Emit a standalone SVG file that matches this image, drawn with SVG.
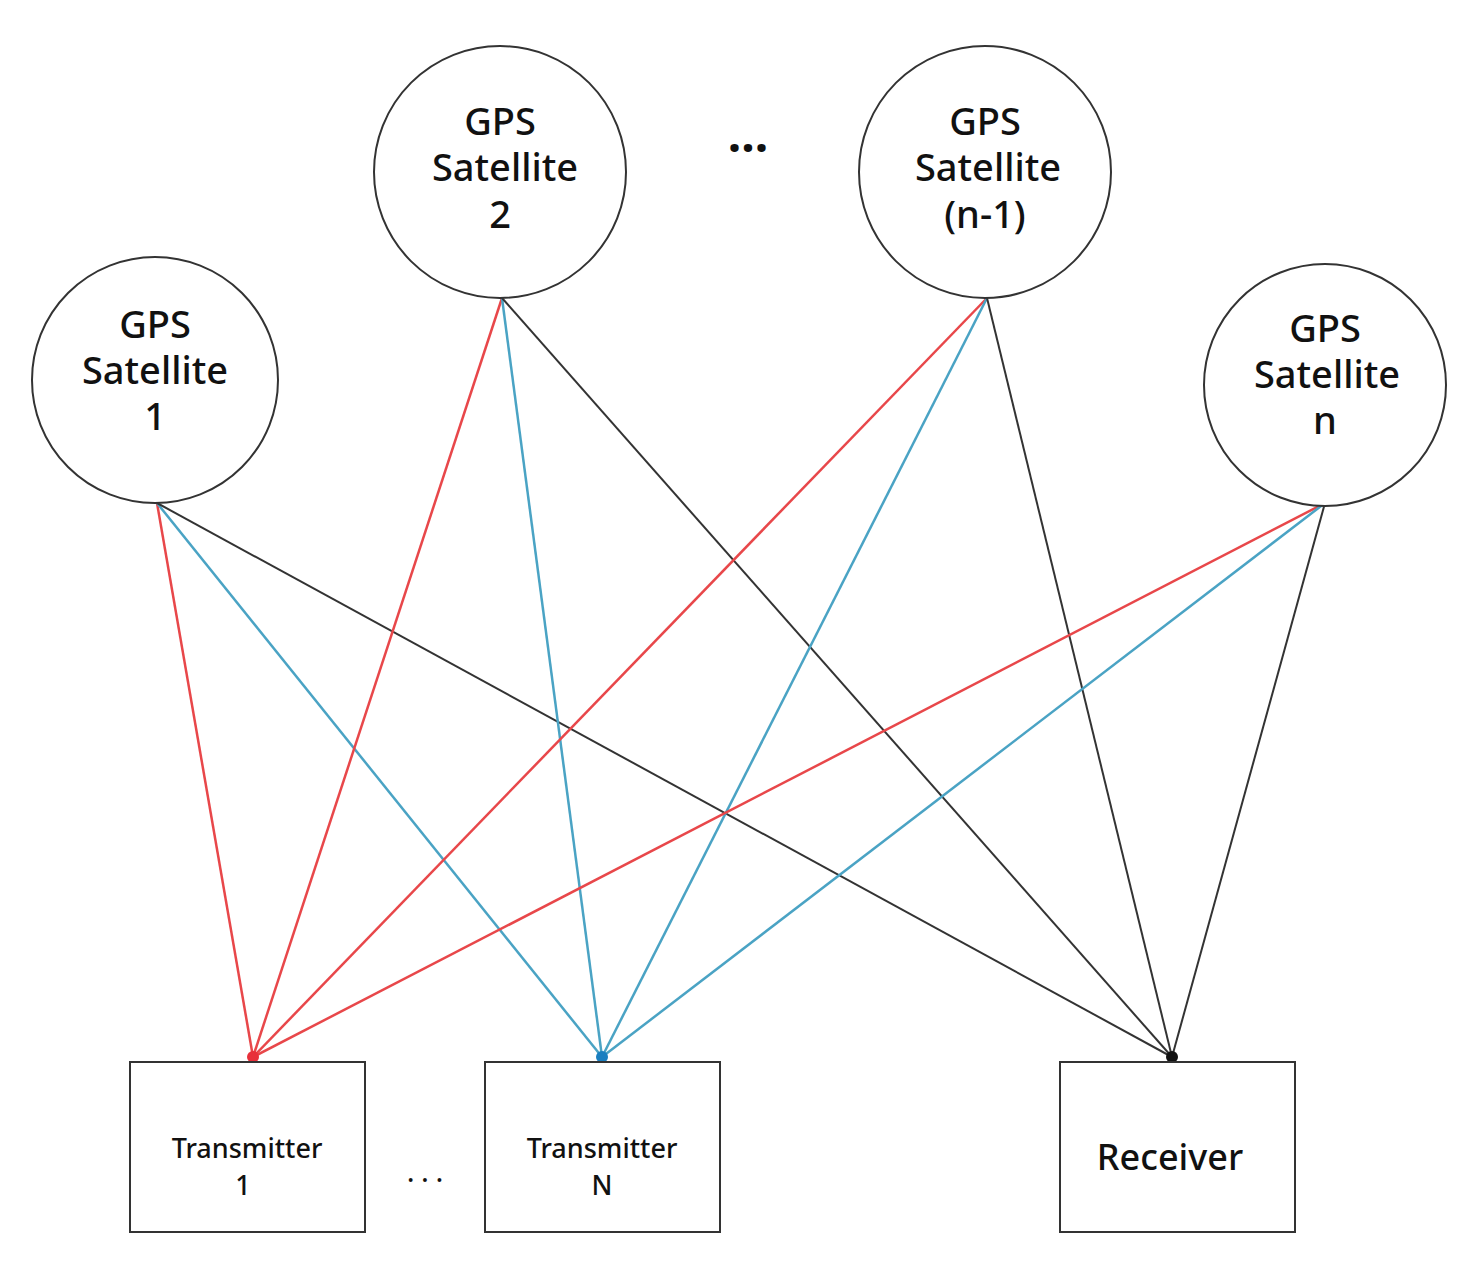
<svg xmlns="http://www.w3.org/2000/svg" width="1484" height="1270" viewBox="0 0 1484 1270">
<style>
.n{fill:#fff;stroke:#333;stroke-width:2}
.t{font-family:"Noto Sans","Open Sans",sans-serif;fill:#111;text-anchor:middle;font-weight:500}
.s{font-size:38px}
.b{font-size:27px}
.r{stroke:#e8474a;stroke-width:2.5}
.u{stroke:#4aa3c4;stroke-width:2.5}
.k{stroke:#333;stroke-width:2}
</style>
<rect width="1484" height="1270" fill="#fff"/>
<g id="connectors" fill="none">
<line class="r" x1="157" y1="503" x2="253" y2="1057"/>
<line class="u" x1="157" y1="503" x2="602" y2="1057"/>
<line class="k" x1="157" y1="503" x2="1172" y2="1057"/>
<line class="r" x1="502" y1="298" x2="253" y2="1057"/>
<line class="u" x1="502" y1="298" x2="602" y2="1057"/>
<line class="k" x1="502" y1="298" x2="1172" y2="1057"/>
<line class="r" x1="987" y1="298" x2="253" y2="1057"/>
<line class="u" x1="987" y1="298" x2="602" y2="1057"/>
<line class="k" x1="987" y1="298" x2="1172" y2="1057"/>
<line class="r" x1="1325" y1="503" x2="253" y2="1057"/>
<line class="u" x1="1325" y1="503" x2="602" y2="1057"/>
<line class="k" x1="1325" y1="503" x2="1172" y2="1057"/>
<circle cx="253" cy="1057" r="6" fill="#e8303a"/>
<circle cx="602" cy="1057" r="6" fill="#1a7fc0"/>
<circle cx="1172" cy="1057" r="6" fill="#111"/>
</g>
<g id="sat1"><circle class="n" cx="155" cy="380" r="123"/><text class="t s"><tspan x="155" y="338">GPS</tspan><tspan x="155" y="384">Satellite</tspan><tspan x="155" y="430">1</tspan></text></g>
<g id="sat2"><circle class="n" cx="500" cy="172" r="126"/><text class="t s"><tspan x="500" y="135">GPS</tspan><tspan x="505" y="181">Satellite</tspan><tspan x="500" y="228">2</tspan></text></g>
<g id="satn1"><circle class="n" cx="985" cy="172" r="126"/><text class="t s"><tspan x="985" y="135">GPS</tspan><tspan x="988" y="181">Satellite</tspan><tspan x="985" y="228">(n-1)</tspan></text></g>
<g id="satn"><circle class="n" cx="1325" cy="385" r="121"/><text class="t s"><tspan x="1325" y="342">GPS</tspan><tspan x="1327" y="388">Satellite</tspan><tspan x="1325" y="434">n</tspan></text></g>
<text class="t" style="font-size:48px;font-weight:700" x="748" y="165">···</text>
<g id="tx1"><rect class="n" x="130" y="1062" width="235" height="170"/><text class="t b"><tspan x="247" y="1158">Transmitter</tspan><tspan x="243" y="1195">1</tspan></text></g>
<g id="txN"><rect class="n" x="485" y="1062" width="235" height="170"/><text class="t b"><tspan x="602" y="1158">Transmitter</tspan><tspan x="602" y="1195">N</tspan></text></g>
<g id="rx"><rect class="n" x="1060" y="1062" width="235" height="170"/><text class="t" style="font-size:36px" x="1170" y="1170">Receiver</text></g>
<text class="t b" x="425" y="1190">· · ·</text>
</svg>
